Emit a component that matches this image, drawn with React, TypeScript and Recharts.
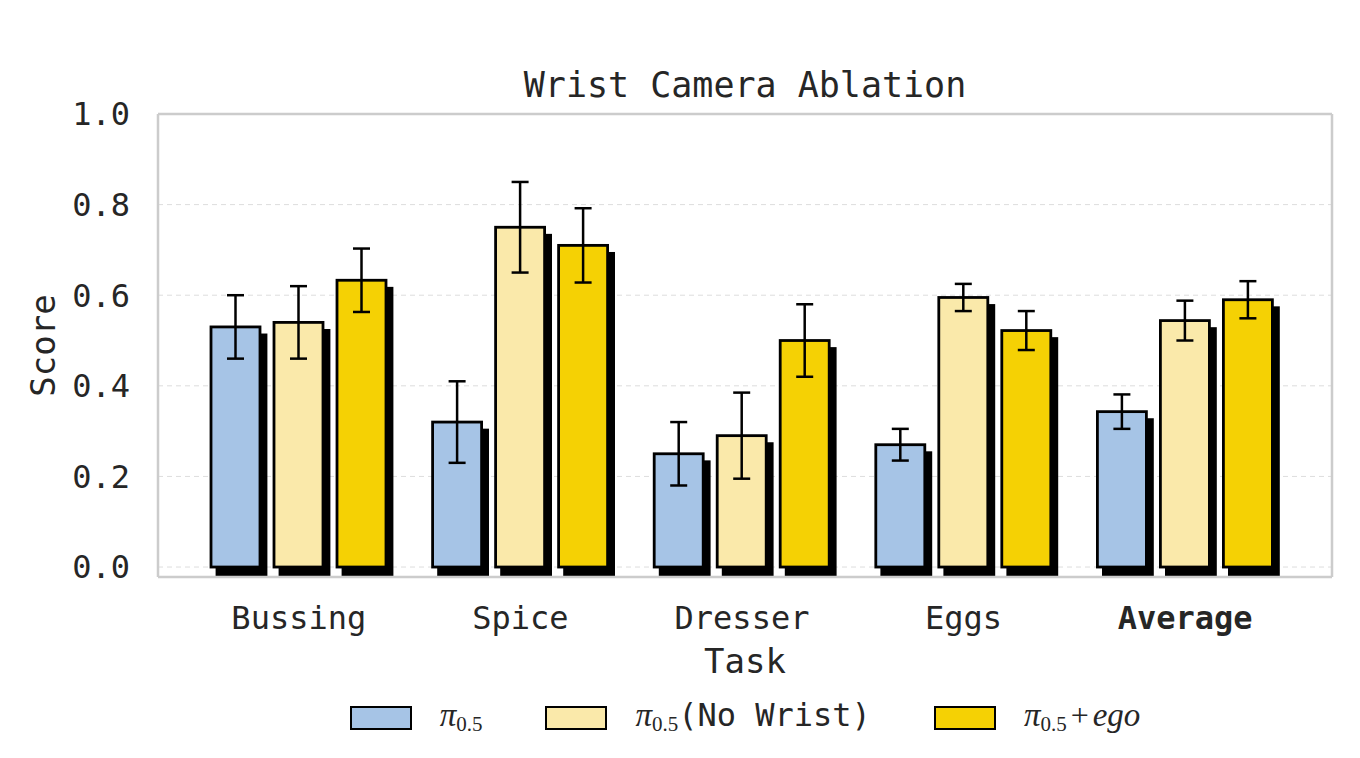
import React from "react";
import { BarChart, Bar, XAxis, YAxis, CartesianGrid, ErrorBar, Legend, ReferenceLine } from "recharts";

const tasks = ["Bussing", "Spice", "Dresser", "Eggs", "Average"];
const pi05 = [0.53, 0.32, 0.25, 0.27, 0.343];
const pi05Err = [0.07, 0.09, 0.07, 0.035, 0.038];
const noWrist = [0.54, 0.75, 0.29, 0.595, 0.544];
const noWristErr = [0.08, 0.1, 0.095, 0.03, 0.044];
const ego = [0.633, 0.71, 0.5, 0.522, 0.59];
const egoErr = [0.07, 0.082, 0.08, 0.043, 0.041];
const yTicks = [0, 0.2, 0.4, 0.6, 0.8, 1.0];

const MONO = '"DejaVu Sans Mono", monospace';
const MATH = '"Liberation Serif", "DejaVu Serif", serif';
const TEXT = "#262626";
const FRAME = "#cccccc";

const data = tasks.map((task, i) => ({
    task,
    pi05: pi05[i],
    pi05Err: pi05Err[i],
    noWrist: noWrist[i],
    noWristErr: noWristErr[i],
    ego: ego[i],
    egoErr: egoErr[i],
}));

const Pi = () => (
    <span style={{ fontFamily: MATH }}>
        <span style={{ fontStyle: "italic", fontSize: 33 }}>π</span>
        <span style={{ fontSize: 21, position: "relative", top: 5 }}>0.5</span>
    </span>
);

const series = [
    { key: "pi05", err: "pi05Err", color: "#A6C4E6", label: <Pi /> },
    {
        key: "noWrist",
        err: "noWristErr",
        color: "#FAE9AA",
        label: (
            <>
                <Pi />
                <span style={{ fontFamily: MONO, fontSize: 32 }}>(No Wrist)</span>
            </>
        ),
    },
    {
        key: "ego",
        err: "egoErr",
        color: "#F5D104",
        label: (
            <>
                <Pi />
                <span style={{ fontFamily: MATH, fontSize: 32, margin: "0 4px" }}>+</span>
                <span style={{ fontFamily: MATH, fontSize: 33, fontStyle: "italic" }}>ego</span>
            </>
        ),
    },
];

// bar with a black drop shadow offset to the lower right
const ShadowBar = (props: any) => {
    const { x, y, width, height, fill } = props;
    if (!height) return null;
    return (
        <g>
            <rect x={x - 1.4 + 6} y={y - 1.4 + 8} width={width + 2.8} height={height + 2.8} fill="#000" />
            <rect x={x} y={y} width={width} height={height} fill={fill} stroke="#000" strokeWidth={2.8} />
        </g>
    );
};

const TaskTick = ({ x, y, payload }: any) => (
    <text
        x={x}
        y={y}
        dy={52}
        textAnchor="middle"
        fontFamily={MONO}
        fontSize={32}
        fill={TEXT}
        fontWeight={payload.value === "Average" ? "bold" : "normal"}
    >
        {payload.value}
    </text>
);

const TaskLabel = ({ viewBox }: any) => (
    <text x={viewBox.x + viewBox.width / 2} y={viewBox.y + 96} textAnchor="middle" fontFamily={MONO} fontSize={34} fill={TEXT}>
        Task
    </text>
);

const TitleLabel = ({ viewBox }: any) => (
    <text x={viewBox.x + viewBox.width / 2} y={viewBox.y - 17} textAnchor="middle" fontFamily={MONO} fontSize={35} fill={TEXT}>
        Wrist Camera Ablation
    </text>
);

const ScoreLabel = ({ viewBox }: any) => {
    const cx = viewBox.x + 55;
    const cy = viewBox.y + viewBox.height / 2;
    return (
        <text x={cx} y={cy} transform={`rotate(-90, ${cx}, ${cy})`} textAnchor="middle" fontFamily={MONO} fontSize={34} fill={TEXT}>
            Score
        </text>
    );
};

const LegendContent = () => (
    <div style={{ height: 60, display: "flex", justifyContent: "center" }}>
        <div style={{ height: 40, display: "flex", alignItems: "center", color: TEXT }}>
            {series.map((s, i) => (
                <div key={s.key} style={{ display: "flex", alignItems: "center", marginRight: i < series.length - 1 ? 63 : 0 }}>
                    <div
                        style={{
                            width: 58,
                            height: 20,
                            background: s.color,
                            border: "2.5px solid #000",
                            marginRight: 28,
                        }}
                    />
                    <div style={{ whiteSpace: "nowrap", lineHeight: "40px" }}>{s.label}</div>
                </div>
            ))}
        </div>
    </div>
);

const App = () => {
    return (
        <div style={{ position: "absolute", left: 0, top: 0, background: "#fff" }}>
            <BarChart
                width={1360}
                height={758}
                data={data}
                barSize={49}
                barGap={14}
                margin={{ top: 114, right: 28, left: 0, bottom: 0 }}
            >
                <CartesianGrid vertical={false} stroke="#dddddd" strokeDasharray="5 4" strokeWidth={1} />
                <CartesianGrid
                    horizontal={false}
                    stroke={FRAME}
                    strokeWidth={2.5}
                    verticalCoordinatesGenerator={({ offset }: any) => [offset.left + offset.width]}
                />
                <XAxis
                    dataKey="task"
                    height={121}
                    padding={{ left: 30, right: 36 }}
                    tickLine={false}
                    tickSize={0}
                    tickMargin={0}
                    axisLine={{ stroke: FRAME, strokeWidth: 2.5 }}
                    tick={<TaskTick />}
                    label={<TaskLabel />}
                    interval={0}
                />
                <YAxis
                    width={158}
                    domain={[-0.022, 1.0]}
                    ticks={yTicks}
                    allowDataOverflow
                    tickFormatter={(v: number) => v.toFixed(1)}
                    tickLine={false}
                    tickSize={0}
                    tickMargin={28}
                    axisLine={{ stroke: FRAME, strokeWidth: 2.5 }}
                    tick={{ fontFamily: MONO, fontSize: 32, fill: TEXT }}
                    label={<ScoreLabel />}
                />
                <ReferenceLine y={1.0} stroke={FRAME} strokeWidth={2.5} label={<TitleLabel />} />
                <Legend verticalAlign="bottom" content={<LegendContent />} wrapperStyle={{ left: 158, width: 1174 }} />
                {series.map((s) => (
                    <Bar key={s.key} dataKey={s.key} fill={s.color} shape={<ShadowBar />} isAnimationActive={false}>
                        <ErrorBar dataKey={s.err} width={8.5} strokeWidth={2.5} stroke="#000" direction="y" />
                    </Bar>
                ))}
            </BarChart>
        </div>
    );
};

export default App;
